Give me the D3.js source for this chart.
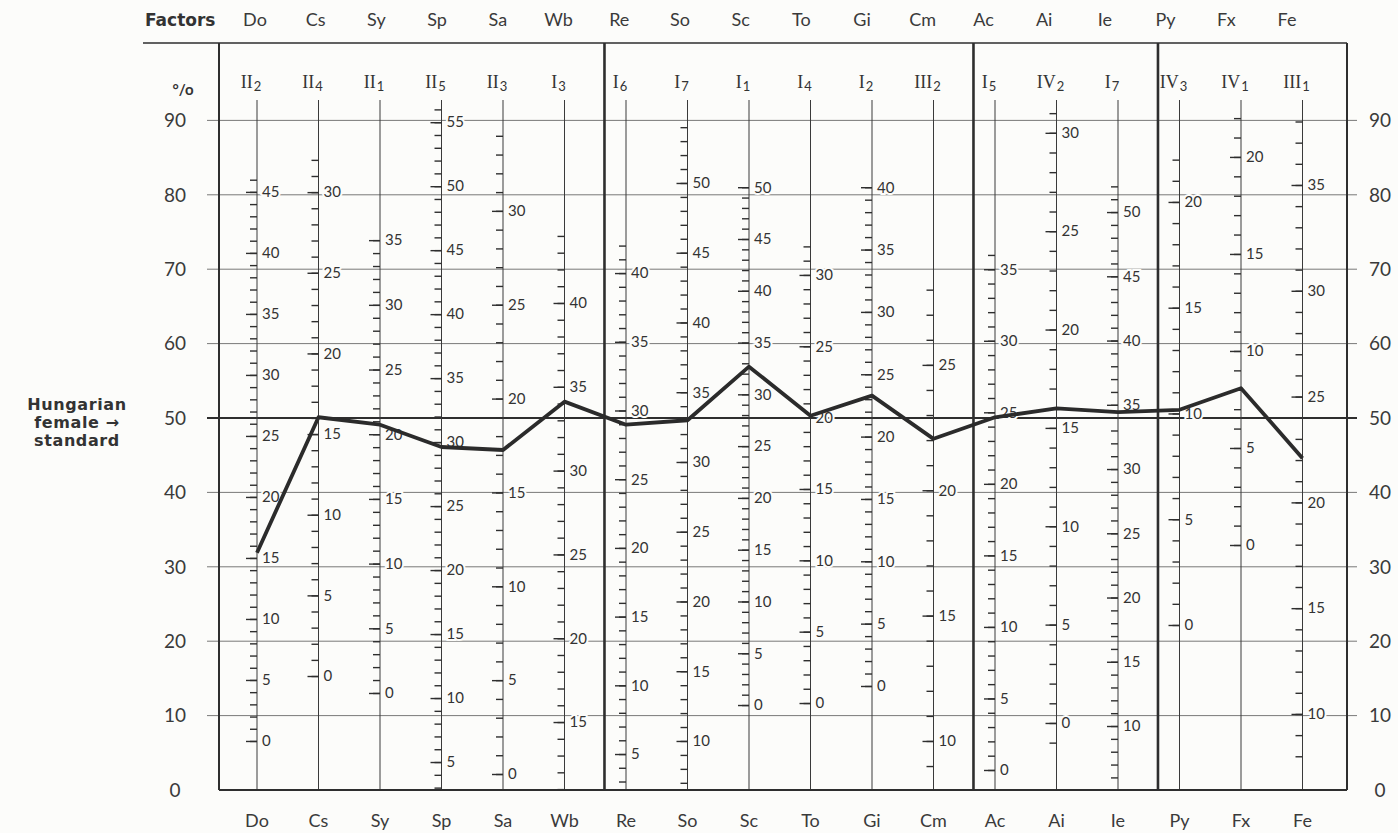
<!DOCTYPE html>
<html>
<head>
<meta charset="utf-8">
<script src="https://cdn.jsdelivr.net/npm/d3@7"></script>
<style>
  body { margin: 0; background: #fcfcfa; }
  svg { display: block; }
</style>
</head>
<body>
<svg id="chart" width="1398" height="833"></svg>
<script>
// factor codes (top / bottom rows) and the questionnaire section of each scale
const factors = ["Do", "Cs", "Sy", "Sp", "Sa", "Wb", "Re", "So", "Sc", "To", "Gi", "Cm", "Ac", "Ai", "Ie", "Py", "Fx", "Fe"];
const sectionRoman = ["II", "II", "II", "II", "II", "I", "I", "I", "I", "I", "I", "III", "I", "IV", "I", "IV", "IV", "III"];
const sectionSub = ["2", "4", "1", "5", "3", "3", "6", "7", "1", "4", "2", "2", "5", "2", "7", "3", "1", "1"];
const groupEnds = ["Wb", "Cm", "Ie"];

// common percent axis
const pctTicks = [0, 10, 20, 30, 40, 50, 60, 70, 80, 90];
const standardPct = 50;

// raw score scale of every factor: tick range and where it sits on the % axis
const rawMin = [0, 0, 0, 3, 0, 11, 3, 7, 0, 0, 0, 9, 0, -1, 6, 0, 0, 8];
const rawMax = [46, 32, 35, 56, 34, 44, 42, 54, 50, 32, 40, 28, 36, 31, 52, 22, 22, 38];
const pctAtRaw0 = [6.59, 15.32, 13.04, -4.84, 2.15, -24.66, -4.40, -12.16, 11.42, 11.69, 13.98, -27.11, 2.69, 9.01, -8.67, 22.18, 32.93, -18.22];
const pctPerRaw = [1.640, 2.168, 1.739, 1.720, 2.523, 2.253, 1.847, 1.875, 1.392, 1.918, 1.676, 3.370, 1.923, 2.644, 1.727, 2.843, 2.608, 2.844];

// profile (percent position on each factor)
const profilePct = [31.9, 50.1, 49.1, 46.1, 45.7, 52.2, 49.1, 49.7, 56.9, 50.3, 53.0, 47.2, 50.1, 51.3, 50.8, 51.1, 54.0, 44.6];

const svg = d3.select("#chart");
const ink = "#2e2e2e";
const paper = "#fcfcfa";
const sans = "Lato, 'Open Sans', sans-serif";
const wide = "'DejaVu Sans', Verdana, sans-serif";

const y = d3.scaleLinear().domain([0, 90]).range([790, 120.4]);
const x = d3.scalePoint().domain(factors).range([257, 1302.5]);
const headX = d3.scalePoint().domain(factors).range([255, 1287]);
const step = x.step();
const frameL = x("Do") - 38;
const frameR = x("Fe") + 44.5;
const frameTop = 43;
const axisTop = 100;

svg.append("rect").attr("width", 1398).attr("height", 833).attr("fill", paper);

// horizontal grid
svg.append("g")
  .selectAll("line")
  .data(pctTicks.filter(d => d > 0 && d !== standardPct))
  .enter().append("line")
  .attr("x1", frameL - 12).attr("x2", frameR + 10)
  .attr("y1", d => y(d)).attr("y2", d => y(d))
  .attr("stroke", "#6a6a6a").attr("stroke-width", 0.9);

svg.append("line")
  .attr("x1", frameL - 12).attr("x2", frameR + 10)
  .attr("y1", y(standardPct)).attr("y2", y(standardPct))
  .attr("stroke", ink).attr("stroke-width", 2);

// % labels both sides
[175, 1380].forEach(lx => {
  svg.append("g")
    .selectAll("text")
    .data(pctTicks)
    .enter().append("text")
    .attr("x", lx).attr("y", d => y(d))
    .attr("dy", "0.36em")
    .attr("text-anchor", "middle")
    .attr("font-family", sans).attr("font-size", 19)
    .attr("fill", "#3a3a3a")
    .text(d => d);
});

// one vertical raw-score scale per factor
factors.forEach((f, i) => {
  const cx = x(f);
  const lo = rawMin[i], hi = rawMax[i];
  const toPct = r => pctAtRaw0[i] + pctPerRaw[i] * r;
  const s = d3.scaleLinear().domain([lo, hi]).range([y(toPct(lo)), y(toPct(hi))]);
  const all = d3.range(lo, hi + 1);
  const fives = all.filter(v => v % 5 === 0);

  svg.append("line")
    .attr("x1", cx).attr("x2", cx)
    .attr("y1", axisTop).attr("y2", y(0))
    .attr("stroke", "#3a3a3a").attr("stroke-width", 1);

  const g = svg.append("g").attr("transform", `translate(${cx},0)`);

  const minor = g.append("g").call(d3.axisLeft(s).tickValues(all).tickSize(7).tickFormat(""));
  const major = g.append("g").call(d3.axisLeft(s).tickValues(fives).tickSize(11).tickFormat(""));
  const labels = g.append("g").call(d3.axisRight(s).tickValues(fives).tickSize(0).tickPadding(5));

  [minor, major, labels].forEach(a => {
    a.select(".domain").remove();
    a.selectAll("line").attr("stroke", ink).attr("stroke-width", 1.4);
  });
  labels.selectAll("text")
    .attr("font-family", sans).attr("font-size", 15)
    .attr("fill", "#333")
    .attr("stroke", paper).attr("stroke-width", 4)
    .attr("paint-order", "stroke");
});

// frame and group dividers
const frame = svg.append("g").attr("stroke", ink).attr("fill", "none");
frame.append("line").attr("x1", 143).attr("x2", frameR).attr("y1", frameTop).attr("y2", frameTop).attr("stroke-width", 1.6);
frame.append("line").attr("x1", frameL).attr("x2", frameL).attr("y1", frameTop).attr("y2", y(0)).attr("stroke-width", 2);
frame.append("line").attr("x1", frameR).attr("x2", frameR).attr("y1", frameTop).attr("y2", y(0)).attr("stroke-width", 2);
frame.append("line").attr("x1", frameL).attr("x2", frameR).attr("y1", y(0)).attr("y2", y(0)).attr("stroke-width", 2.2);
frame.selectAll(".div")
  .data(groupEnds)
  .enter().append("line")
  .attr("x1", d => x(d) + step * 0.65).attr("x2", d => x(d) + step * 0.65)
  .attr("y1", frameTop).attr("y2", y(0))
  .attr("stroke-width", 2.6);

// profile line
svg.append("path")
  .datum(profilePct)
  .attr("d", d3.line().x((d, i) => x(factors[i])).y(d => y(d)))
  .attr("fill", "none")
  .attr("stroke", "#2b2b2b")
  .attr("stroke-width", 3.8)
  .attr("stroke-linejoin", "round");

// header rows
svg.append("text")
  .attr("x", 145).attr("y", 26)
  .attr("font-family", wide).attr("font-size", 17).attr("font-weight", 700)
  .attr("fill", "#333")
  .text("Factors");

svg.append("g")
  .selectAll("text")
  .data(factors)
  .enter().append("text")
  .attr("x", d => headX(d)).attr("y", 26)
  .attr("text-anchor", "middle")
  .attr("font-family", sans).attr("font-size", 18)
  .attr("fill", "#3a3a3a")
  .text(d => d);

const sec = svg.append("g")
  .selectAll("text")
  .data(factors)
  .enter().append("text")
  .attr("x", d => x(d) - 6).attr("y", 88)
  .attr("text-anchor", "middle")
  .attr("font-family", "'Liberation Serif', 'DejaVu Serif', serif")
  .attr("font-size", 18)
  .attr("fill", "#333");
sec.append("tspan").text((d, i) => sectionRoman[i]);
sec.append("tspan")
  .attr("font-family", sans)
  .attr("font-size", 13).attr("dy", 3).attr("dx", 1)
  .text((d, i) => sectionSub[i]);

svg.append("text")
  .attr("x", 183).attr("y", 95)
  .attr("text-anchor", "middle")
  .attr("font-family", sans).attr("font-size", 15).attr("font-weight", 700)
  .attr("fill", "#333")
  .text("°/o");

// bottom factor row
svg.append("g")
  .selectAll("text")
  .data(factors)
  .enter().append("text")
  .attr("x", d => x(d)).attr("y", 827)
  .attr("text-anchor", "middle")
  .attr("font-family", sans).attr("font-size", 18)
  .attr("fill", "#3a3a3a")
  .text(d => d);

// standard label
svg.append("g")
  .selectAll("text")
  .data(["Hungarian", "female \u2192", "standard"])
  .enter().append("text")
  .attr("x", 77).attr("y", (d, i) => 410 + i * 18)
  .attr("text-anchor", "middle")
  .attr("font-family", wide).attr("font-size", 16).attr("font-weight", 700)
  .attr("letter-spacing", 0.6)
  .attr("fill", "#333")
  .text(d => d);
</script>
</body>
</html>
